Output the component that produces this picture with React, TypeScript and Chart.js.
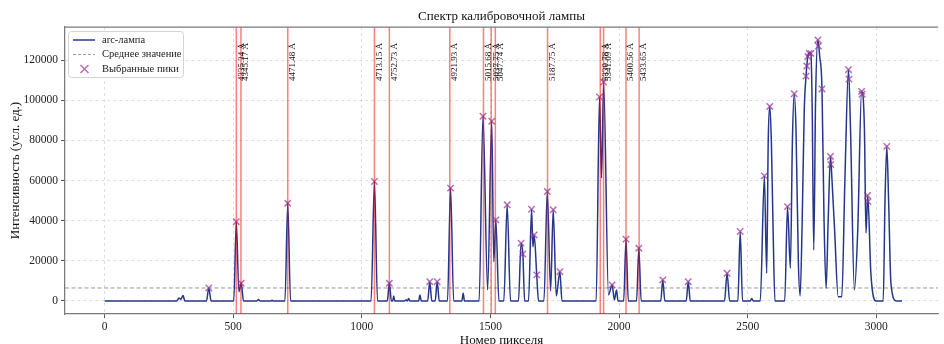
import { useEffect, useRef } from 'react';
import { Chart, registerables } from 'chart.js';

Chart.register(...registerables);

// ---- data ----
const spectrum: [number, number][] = [
  [0, 0], [280, 0], [290, 1500], [296, 800], [305, 2700], [312, 0],
  [396, 0], [405, 6500], [414, 0],
  [502, 0], [512, 39500], [522, 4600], [531, 8800], [540, 0],
  [592, 0], [598, 800], [604, 0], [646, 0], [651, 400], [656, 0],
  [701, 0], [712, 48700], [723, 0],
  [1036, 0], [1049, 59500], [1061, 0],
  [1099, 0], [1107, 8800], [1115, 0], [1120, 0], [1124, 2500], [1128, 0],
  [1166, 0], [1172, 600], [1177, 0], [1182, 1200], [1187, 0], [1221, 0], [1226, 3000], [1231, 0],
  [1256, 0], [1264, 9600], [1272, 0], [1285, 0], [1293, 9600], [1301, 0],
  [1333, 0], [1345, 56200], [1357, 0],
  [1389, 0], [1394, 3800], [1399, 0],
  [1456, 0], [1471, 92000], [1489, 5500], [1505, 89500], [1513, 19600], [1521, 40400], [1533, 0],
  [1552, 0], [1565, 47900], [1578, 0],
  [1609, 0], [1619, 28800], [1626, 23400], [1633, 0],
  [1648, 0], [1660, 45700], [1665, 27000], [1670, 32900], [1680, 13000], [1687, 0],
  [1708, 0], [1721, 54500], [1734, 5000], [1744, 45400], [1756, 2500], [1770, 14600], [1778, 0],
  [1911, 0], [1924, 101600], [1932, 61200], [1940, 109000], [1959, 3000], [1973, 8000], [1982, 500], [1990, 5500], [1996, 0],
  [2018, 0], [2027, 30800], [2036, 0], [2068, 0], [2077, 26300], [2086, 0],
  [2162, 0], [2170, 10500], [2178, 0], [2261, 0], [2269, 9600], [2277, 0],
  [2410, 0], [2420, 13800], [2430, 0], [2462, 0], [2471, 34600], [2480, 0],
  [2510, 0], [2516, 1200], [2522, 0],
  [2549, 0], [2565, 62300], [2574, 13800], [2580, 80000], [2586, 96900], [2592, 80000], [2599, 35000], [2606, 0],
  [2644, 0], [2655, 47000], [2666, 16300], [2674, 80000], [2681, 103200], [2688, 85000], [2697, 20000], [2704, 2500],
  [2712, 40000], [2720, 95000], [2727, 112000], [2734, 121800], [2740, 123600], [2746, 123200], [2751, 95000], [2757, 25400],
  [2764, 100000], [2773, 130000], [2780, 122000], [2789, 105600], [2797, 40000], [2805, 6300],
  [2813, 40000], [2822, 72000], [2828, 60000], [2838, 35400], [2852, 2100], [2866, 2100],
  [2878, 60000], [2892, 115200], [2900, 85000], [2915, 5500], [2928, 35400], [2943, 104400], [2954, 85300],
  [2960, 33800], [2967, 52500], [2979, 13800], [2999, 0],
  [3027, 0], [3034, 50000], [3041, 77000], [3048, 50000], [3057, 8800], [3078, 0], [3100, 0],
];

const peakPixels = [405, 512, 531, 712, 1049, 1107, 1264, 1293, 1345, 1471, 1505, 1521, 1565, 1619, 1626, 1660, 1670, 1680, 1721, 1744, 1770, 1924, 1940, 1973, 2027, 2077, 2170, 2269, 2420, 2471, 2565, 2586, 2655, 2681, 2727, 2730, 2734, 2739, 2746, 2773, 2775, 2789, 2822, 2823, 2892, 2894, 2943, 2945, 2966, 2968, 3041];
const peakIntensity = [6500, 39500, 8800, 48700, 59500, 8800, 9600, 9600, 56200, 92000, 89500, 40400, 47900, 28800, 23400, 45700, 32900, 13000, 54500, 45400, 14600, 101600, 109000, 8000, 30800, 26300, 10500, 9600, 13800, 34600, 62300, 96900, 47000, 103200, 112000, 117000, 121800, 123300, 123300, 130000, 127000, 105600, 72000, 68000, 115200, 110500, 104400, 103000, 52500, 49500, 77000];

const linePixels = [512, 530, 712, 1049, 1107, 1342, 1473, 1503, 1519, 1722, 1927, 1940, 2027, 2078];
const lineLabels = ['4335.34 Å', '4345.17 Å', '4471.48 Å', '4713.15 Å', '4752.73 Å', '4921.93 Å', '5015.68 Å', '5037.75 Å', '5047.74 Å', '5187.75 Å', '5330.78 Å', '5341.09 Å', '5400.56 Å', '5433.65 Å'];

const meanIntensity = 6480;
const xTicks = [0, 500, 1000, 1500, 2000, 2500, 3000];
const yTicks = [0, 20000, 40000, 60000, 80000, 100000, 120000];
const legendLabels = ['arc-лампа', 'Среднее значение', 'Выбранные пики'];
const chartTitle = 'Спектр калибровочной лампы';
const xTitle = 'Номер пикселя';
const yTitle = 'Интенсивность (усл. ед.)';

// ---- styles ----
const SERIF = '"Liberation Serif", "Times New Roman", serif';
const LINE_COLOR = '#26368c';
const MARKER_COLOR = 'rgba(150, 50, 150, 0.7)';
const RED = 'rgba(255, 0, 0, 0.5)';
const GRID = 'rgba(0, 0, 0, 0.16)';
const SPINE = '#7a7a7a';

const overlay = {
  id: 'overlay',
  beforeDatasetsDraw(chart: any) {
    const { ctx, chartArea } = chart;
    const y = chart.scales.y.getPixelForValue(meanIntensity);
    ctx.save();
    ctx.strokeStyle = '#9a9a9a';
    ctx.lineWidth = 1;
    ctx.setLineDash([4, 2.5]);
    ctx.beginPath();
    ctx.moveTo(chartArea.left, y);
    ctx.lineTo(chartArea.right, y);
    ctx.stroke();
    ctx.restore();
  },
  afterDatasetsDraw(chart: any) {
    const { ctx, chartArea } = chart;
    const xs = chart.scales.x;
    ctx.save();
    ctx.strokeStyle = RED;
    ctx.lineWidth = 1.5;
    linePixels.forEach((p) => {
      const x = xs.getPixelForValue(p);
      ctx.beginPath();
      ctx.moveTo(x, chartArea.top);
      ctx.lineTo(x, chartArea.bottom);
      ctx.stroke();
    });
    ctx.fillStyle = '#111';
    ctx.font = `9px ${SERIF}`;
    ctx.textAlign = 'right';
    ctx.textBaseline = 'middle';
    linePixels.forEach((p, i) => {
      const x = xs.getPixelForValue(p);
      ctx.save();
      ctx.translate(x + 5, chartArea.top + 16);
      ctx.rotate(-Math.PI / 2);
      ctx.fillText(lineLabels[i], 0, 0);
      ctx.restore();
    });
    // top spine
    ctx.strokeStyle = SPINE;
    ctx.lineWidth = 1.25;
    ctx.beginPath();
    ctx.moveTo(chartArea.left, chartArea.top);
    ctx.lineTo(chartArea.right, chartArea.top);
    ctx.stroke();
    ctx.restore();
  },
  afterDraw(chart: any) {
    const { ctx, chartArea } = chart;
    ctx.save();
    // title
    ctx.fillStyle = '#111';
    ctx.font = `13px ${SERIF}`;
    ctx.textAlign = 'center';
    ctx.textBaseline = 'middle';
    ctx.fillText(chartTitle, (chartArea.left + chartArea.right) / 2, 17);

    // legend
    const bx = 68.5, by = 31.5, bw = 115, bh = 46, r = 3;
    ctx.beginPath();
    ctx.moveTo(bx + r, by);
    ctx.lineTo(bx + bw - r, by);
    ctx.quadraticCurveTo(bx + bw, by, bx + bw, by + r);
    ctx.lineTo(bx + bw, by + bh - r);
    ctx.quadraticCurveTo(bx + bw, by + bh, bx + bw - r, by + bh);
    ctx.lineTo(bx + r, by + bh);
    ctx.quadraticCurveTo(bx, by + bh, bx, by + bh - r);
    ctx.lineTo(bx, by + r);
    ctx.quadraticCurveTo(bx, by, bx + r, by);
    ctx.closePath();
    ctx.fillStyle = 'rgba(255,255,255,0.85)';
    ctx.fill();
    ctx.strokeStyle = '#d4d4d4';
    ctx.lineWidth = 1;
    ctx.stroke();

    const rows = [40, 54.5, 69];
    ctx.strokeStyle = LINE_COLOR;
    ctx.lineWidth = 1.5;
    ctx.beginPath();
    ctx.moveTo(73, rows[0]);
    ctx.lineTo(95, rows[0]);
    ctx.stroke();
    ctx.strokeStyle = '#9a9a9a';
    ctx.lineWidth = 1;
    ctx.setLineDash([3, 2]);
    ctx.beginPath();
    ctx.moveTo(73, rows[1]);
    ctx.lineTo(95, rows[1]);
    ctx.stroke();
    ctx.setLineDash([]);
    ctx.strokeStyle = MARKER_COLOR;
    ctx.lineWidth = 1.5;
    ctx.beginPath();
    ctx.moveTo(80.5, rows[2] - 4);
    ctx.lineTo(88.5, rows[2] + 4);
    ctx.moveTo(80.5, rows[2] + 4);
    ctx.lineTo(88.5, rows[2] - 4);
    ctx.stroke();

    ctx.fillStyle = '#222';
    ctx.font = `10.5px ${SERIF}`;
    ctx.textAlign = 'left';
    legendLabels.forEach((t, i) => ctx.fillText(t, 102, rows[i]));
    ctx.restore();
  },
};

export default function App() {
  const ref = useRef<HTMLCanvasElement | null>(null);

  useEffect(() => {
    document.body.style.margin = '0';
    const canvas = ref.current;
    if (!canvas) return;
    const chart = new Chart(canvas, {
      data: {
        datasets: [
          {
            type: 'scatter',
            label: legendLabels[2],
            data: peakPixels.map((x, i) => ({ x, y: peakIntensity[i] })),
            pointStyle: 'crossRot',
            pointRadius: 4.5,
            pointBorderWidth: 1.5,
            borderColor: MARKER_COLOR,
            backgroundColor: MARKER_COLOR,
          },
          {
            type: 'line',
            label: legendLabels[0],
            data: spectrum.map(([x, y]) => ({ x, y })),
            borderColor: LINE_COLOR,
            borderWidth: 1.5,
            pointRadius: 0,
            cubicInterpolationMode: 'monotone',
            fill: false,
          },
        ],
      } as any,
      options: {
        animation: false,
        responsive: false,
        devicePixelRatio: 1,
        layout: { padding: { top: 27, right: 0, left: 0, bottom: 0 } },
        plugins: {
          legend: { display: false },
          title: { display: false },
          tooltip: { enabled: false },
        },
        scales: {
          x: {
            type: 'linear',
            min: -154,
            max: 3240,
            afterBuildTicks: (s: any) => {
              s.ticks = xTicks.map((v) => ({ value: v }));
            },
            afterFit: (s: any) => {
              s.height = 30;
            },
            ticks: {
              color: '#222',
              font: { family: SERIF, size: 11.5 },
              padding: 2,
              maxRotation: 0,
              callback: (v: any) => String(v),
            },
            grid: {
              color: GRID,
              lineWidth: 0.8,
              drawTicks: true,
              tickLength: 4,
              tickColor: '#555',
              tickBorderDash: [],
              tickWidth: 1,
            } as any,
            border: { display: true, color: SPINE, width: 1.25, dash: [3, 3] },
            title: {
              display: true,
              text: xTitle,
              color: '#111',
              font: { family: SERIF, size: 13 },
              padding: { top: 0, bottom: -4 },
            },
          },
          y: {
            type: 'linear',
            min: -6480,
            max: 136450,
            afterBuildTicks: (s: any) => {
              s.ticks = yTicks.map((v) => ({ value: v }));
            },
            afterFit: (s: any) => {
              s.width = 65;
            },
            ticks: {
              color: '#222',
              font: { family: SERIF, size: 11.5 },
              padding: 3,
              callback: (v: any) => String(v),
            },
            grid: {
              color: GRID,
              lineWidth: 0.8,
              drawTicks: true,
              tickLength: 4,
              tickColor: '#555',
              tickBorderDash: [],
              tickWidth: 1,
            } as any,
            border: { display: true, color: SPINE, width: 1.25, dash: [3, 3] },
            title: {
              display: true,
              text: yTitle,
              color: '#111',
              font: { family: SERIF, size: 13 },
              padding: { top: 8, bottom: 0 },
            },
          },
        },
      } as any,
      plugins: [overlay],
    });
    return () => chart.destroy();
  }, []);

  return (
    <div style={{ position: 'absolute', left: 0, top: 0, width: 944, height: 344 }}>
      <canvas ref={ref} width={944} height={344} />
    </div>
  );
}
